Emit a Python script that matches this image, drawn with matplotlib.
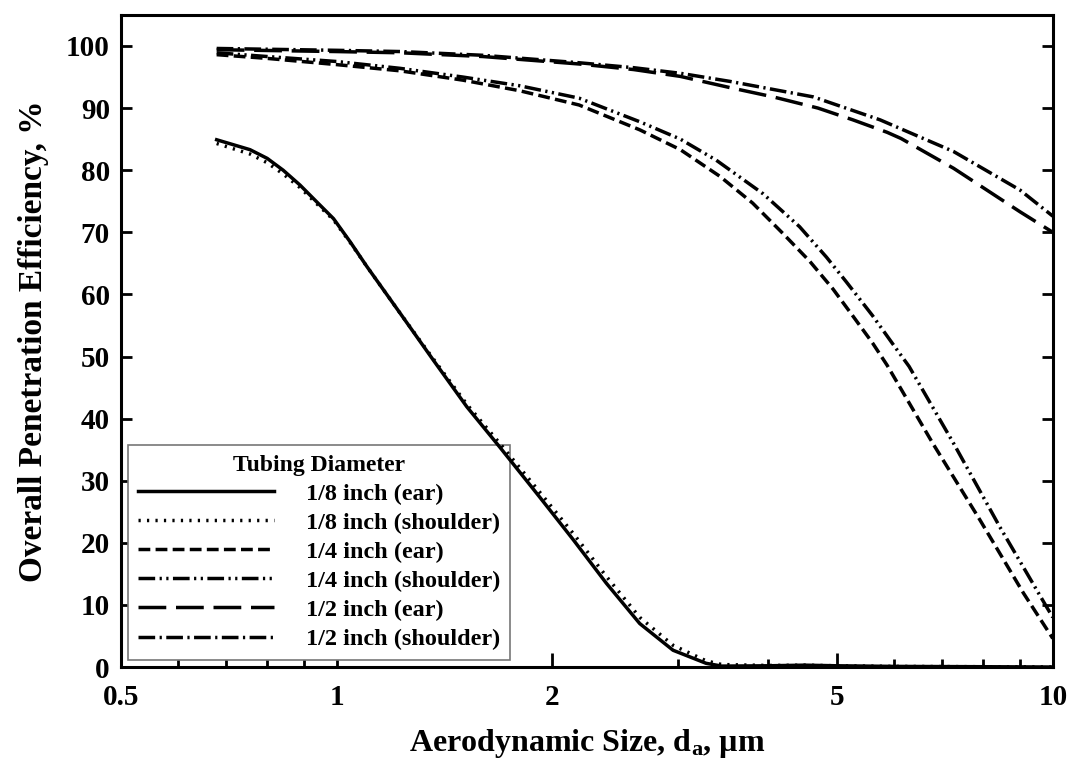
import numpy as np
import matplotlib
matplotlib.use("Agg")
import matplotlib.pyplot as plt

plt.rcParams['font.family'] = ['Liberation Serif', 'DejaVu Serif']
plt.rcParams['font.weight'] = 'bold'
plt.rcParams['mathtext.fontset'] = 'custom'
plt.rcParams['mathtext.rm'] = 'Liberation Serif:bold'
plt.rcParams['mathtext.it'] = 'Liberation Serif:bold'
plt.rcParams['mathtext.bf'] = 'Liberation Serif:bold'
plt.rcParams['lines.scale_dashes'] = False

# 1/8 inch tubing
x_e8 = [0.68, 0.757, 0.80, 0.842, 0.889, 0.938, 0.99, 1.044, 1.102, 1.226, 1.365, 1.52,
        1.69, 1.92, 2.14, 2.38, 2.65, 2.95, 3.28, 3.45, 4.0, 4.5, 5.0, 6.0, 8.0, 10.0]
y_e8 = [84.9, 83.3, 81.9, 80.0, 77.6, 74.9, 72.2, 68.5, 64.5, 57.0, 49.4, 41.9,
        35.4, 27.4, 20.5, 13.5, 7.0, 2.7, 0.6, 0.15, 0.2, 0.3, 0.2, 0.1, 0.05, 0.0]
y_s8 = [84.3, 82.6, 81.2, 79.4, 77.2, 74.6, 72.0, 68.4, 64.5, 57.0, 49.6, 42.3,
        36.0, 28.2, 21.5, 14.6, 8.0, 3.5, 1.0, 0.4, 0.25, 0.3, 0.2, 0.1, 0.05, 0.0]

# 1/4 inch tubing
x_e4 = [0.68, 0.8, 1.0, 1.226, 1.5, 1.8, 2.18, 2.65, 3.02, 3.43, 3.81, 4.2, 4.58,
        4.93, 5.26, 5.6, 5.87, 6.8, 7.91, 9.1, 10.0]
y_e4 = [98.6, 98.0, 97.0, 96.0, 94.5, 92.8, 90.5, 86.5, 83.3, 79.0, 74.7, 69.8, 65.3,
        60.9, 56.5, 52.2, 48.6, 36.0, 23.7, 11.9, 4.6]
x_s4 = [0.68, 0.8, 1.0, 1.226, 1.5, 1.8, 2.18, 2.65, 3.02, 3.39, 3.94, 4.43, 4.83,
        5.15, 5.6, 5.98, 6.3, 7.27, 8.43, 9.8, 10.0]
y_s4 = [98.9, 98.3, 97.5, 96.4, 95.0, 93.6, 91.6, 87.8, 85.0, 81.6, 76.2, 70.9, 66.0,
        62.0, 56.6, 52.0, 48.4, 36.0, 22.6, 9.7, 8.0]

# 1/2 inch tubing
x_e2 = [0.68, 1.0, 1.23, 1.6, 2.18, 2.6, 3.02, 3.54, 4.07, 4.7, 5.26, 5.87, 6.14,
        7.27, 9.0, 10.0]
y_e2 = [99.4, 99.1, 98.9, 98.3, 97.1, 96.2, 95.1, 93.3, 91.8, 90.0, 88.1, 86.1, 85.1,
        80.3, 73.3, 70.0]
x_s2 = [0.68, 1.0, 1.23, 1.6, 2.18, 2.6, 3.02, 3.54, 4.63, 5.74, 7.27, 9.0, 10.0]
y_s2 = [99.6, 99.3, 99.1, 98.5, 97.3, 96.5, 95.6, 94.3, 91.8, 88.1, 83.0, 76.8, 72.6]

labels = ['1/8 inch (ear)', '1/8 inch (shoulder)', '1/4 inch (ear)',
          '1/4 inch (shoulder)', '1/2 inch (ear)', '1/2 inch (shoulder)']

fig = plt.figure(figsize=(10.71, 7.69), dpi=100)
ax = fig.add_axes([0.113, 0.1326, 0.870, 0.848])

lw = 2.5
ax.plot(x_e8, y_e8, color='black', lw=lw, label=labels[0])
ax.plot(x_e8, y_s8, color='black', lw=lw, linestyle=(0, (1.6, 4.5)), label=labels[1])
ax.plot(x_e4, y_e4, color='black', lw=lw, linestyle=(0, (8.5, 3.8)), label=labels[2])
ax.plot(x_s4, y_s4, color='black', lw=lw, linestyle=(0, (12, 3.2, 1.6, 3.2, 1.6, 3.2)), label=labels[3])
ax.plot(x_e2, y_e2, color='black', lw=lw, linestyle=(0, (20, 7)), label=labels[4])
ax.plot(x_s2, y_s2, color='black', lw=lw, linestyle=(0, (12, 3.2, 1.6, 3.2)), label=labels[5])

ax.set_xscale('log')
ax.set_xlim(0.5, 10)
ax.set_ylim(0, 105)
ax.set_xticks([0.5, 1, 2, 5, 10])
ax.set_xticklabels(['0.5', '1', '2', '5', '10'])
ax.set_xticks([0.6, 0.7, 0.8, 0.9, 3, 4, 6, 7, 8, 9], minor=True)
ax.set_xticklabels([], minor=True)
ax.set_yticks(np.arange(0, 101, 10))

ax.tick_params(axis='x', which='major', direction='in', length=10, width=2, labelsize=21, pad=12)
ax.tick_params(axis='x', which='minor', direction='in', length=6, width=2)
ax.tick_params(axis='y', which='major', direction='in', length=8, width=2, labelsize=21,
               right=True, pad=8)
for s in ax.spines.values():
    s.set_linewidth(2.2)

ax.set_xlabel('Aerodynamic Size, d$_\\mathregular{a}$, µm', fontsize=23, fontweight='bold', labelpad=12)
ax.set_ylabel('Overall Penetration Efficiency, %', fontsize=24, fontweight='bold', labelpad=12)

leg = ax.legend(loc='lower left', bbox_to_anchor=(0.0, 0.0), fontsize=17.5,
                title='Tubing Diameter', title_fontproperties={'weight': 'bold', 'size': 17},
                handlelength=5.6, handletextpad=1.3, labelspacing=0.29,
                fancybox=False, framealpha=1, borderpad=0.4, borderaxespad=0.3)
leg.get_frame().set_edgecolor('#777777')
leg.get_frame().set_linewidth(1.2)
leg.set_zorder(1.5)  # curves pass over the frame corner, as in the original

fig.savefig('out.png', dpi=100)
